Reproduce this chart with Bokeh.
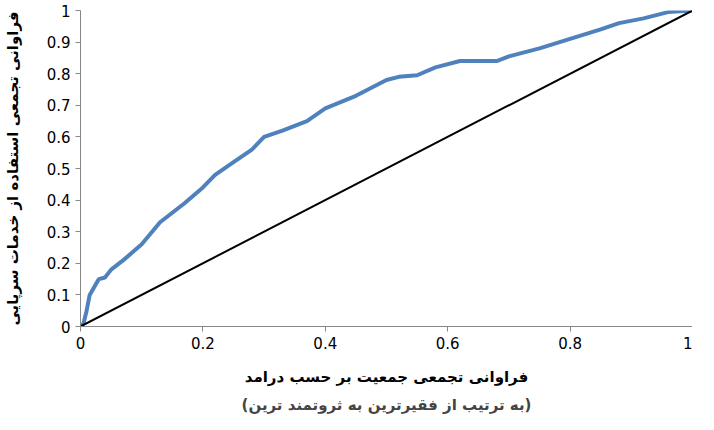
from bokeh.plotting import figure
from bokeh.models import Range1d, FixedTicker, Title
from bokeh.embed import file_html
from bokeh.resources import INLINE

x_vals = [0.0, 0.005, 0.01, 0.015, 0.03, 0.04, 0.05, 0.07, 0.1, 0.13, 0.15, 0.17, 0.2, 0.22,
          0.25, 0.28, 0.3, 0.33, 0.37, 0.4, 0.45, 0.5, 0.52, 0.55, 0.58, 0.62, 0.68, 0.7,
          0.75, 0.8, 0.85, 0.88, 0.92, 0.96, 1.0]
y_vals = [0.0, 0.01, 0.05, 0.1, 0.15, 0.155, 0.18, 0.21, 0.26, 0.33, 0.36, 0.39, 0.44, 0.48,
          0.52, 0.56, 0.6, 0.62, 0.65, 0.69, 0.73, 0.78, 0.79, 0.795, 0.82, 0.84, 0.84, 0.855,
          0.88, 0.91, 0.94, 0.96, 0.975, 0.995, 1.0]
x_ticks = [0, 0.2, 0.4, 0.6, 0.8, 1]
y_ticks = [0, 0.1, 0.2, 0.3, 0.4, 0.5, 0.6, 0.7, 0.8, 0.9, 1]

FONT = "DejaVu Sans"

p = figure(frame_width=612, frame_height=316, output_backend="svg", toolbar_location=None,
           x_range=Range1d(0, 1), y_range=Range1d(0, 1),
           x_axis_label="فراوانی تجمعی جمعیت بر حسب درامد",
           y_axis_label="فراوانی تجمعی استفاده از خدمات سرپایی")
p.min_border_left = 80
p.min_border_right = 0
p.min_border_top = 10
p.min_border_bottom = 10
p.outline_line_color = None
p.grid.grid_line_color = None

p.line(x_vals, y_vals, line_color="#4F81BD", line_width=4)
p.line([0, 1], [0, 1], line_color="black", line_width=2)

p.xaxis.ticker = FixedTicker(ticks=x_ticks)
p.yaxis.ticker = FixedTicker(ticks=y_ticks)
for ax in (p.xaxis, p.yaxis):
    ax.major_label_text_font = FONT
    ax.major_label_text_font_size = "15px"
    ax.major_label_text_color = "black"
    ax.axis_label_text_font = FONT
    ax.axis_label_text_font_size = "15px"
    ax.axis_label_text_font_style = "bold"
    ax.axis_label_text_color = "black"
    ax.axis_line_color = "#888888"
    ax.major_tick_line_color = "#888888"
    ax.minor_tick_line_color = None
    ax.major_tick_in = 0
    ax.major_tick_out = 5
p.xaxis.axis_label_standoff = 16
p.yaxis.axis_label_standoff = 22

p.add_layout(Title(text="(به ترتیب از فقیرترین به ثروتمند ترین)", align="center",
                   text_font=FONT, text_font_size="15px", text_font_style="bold"), "below")

open("out.html", "w").write(file_html(p, INLINE))
